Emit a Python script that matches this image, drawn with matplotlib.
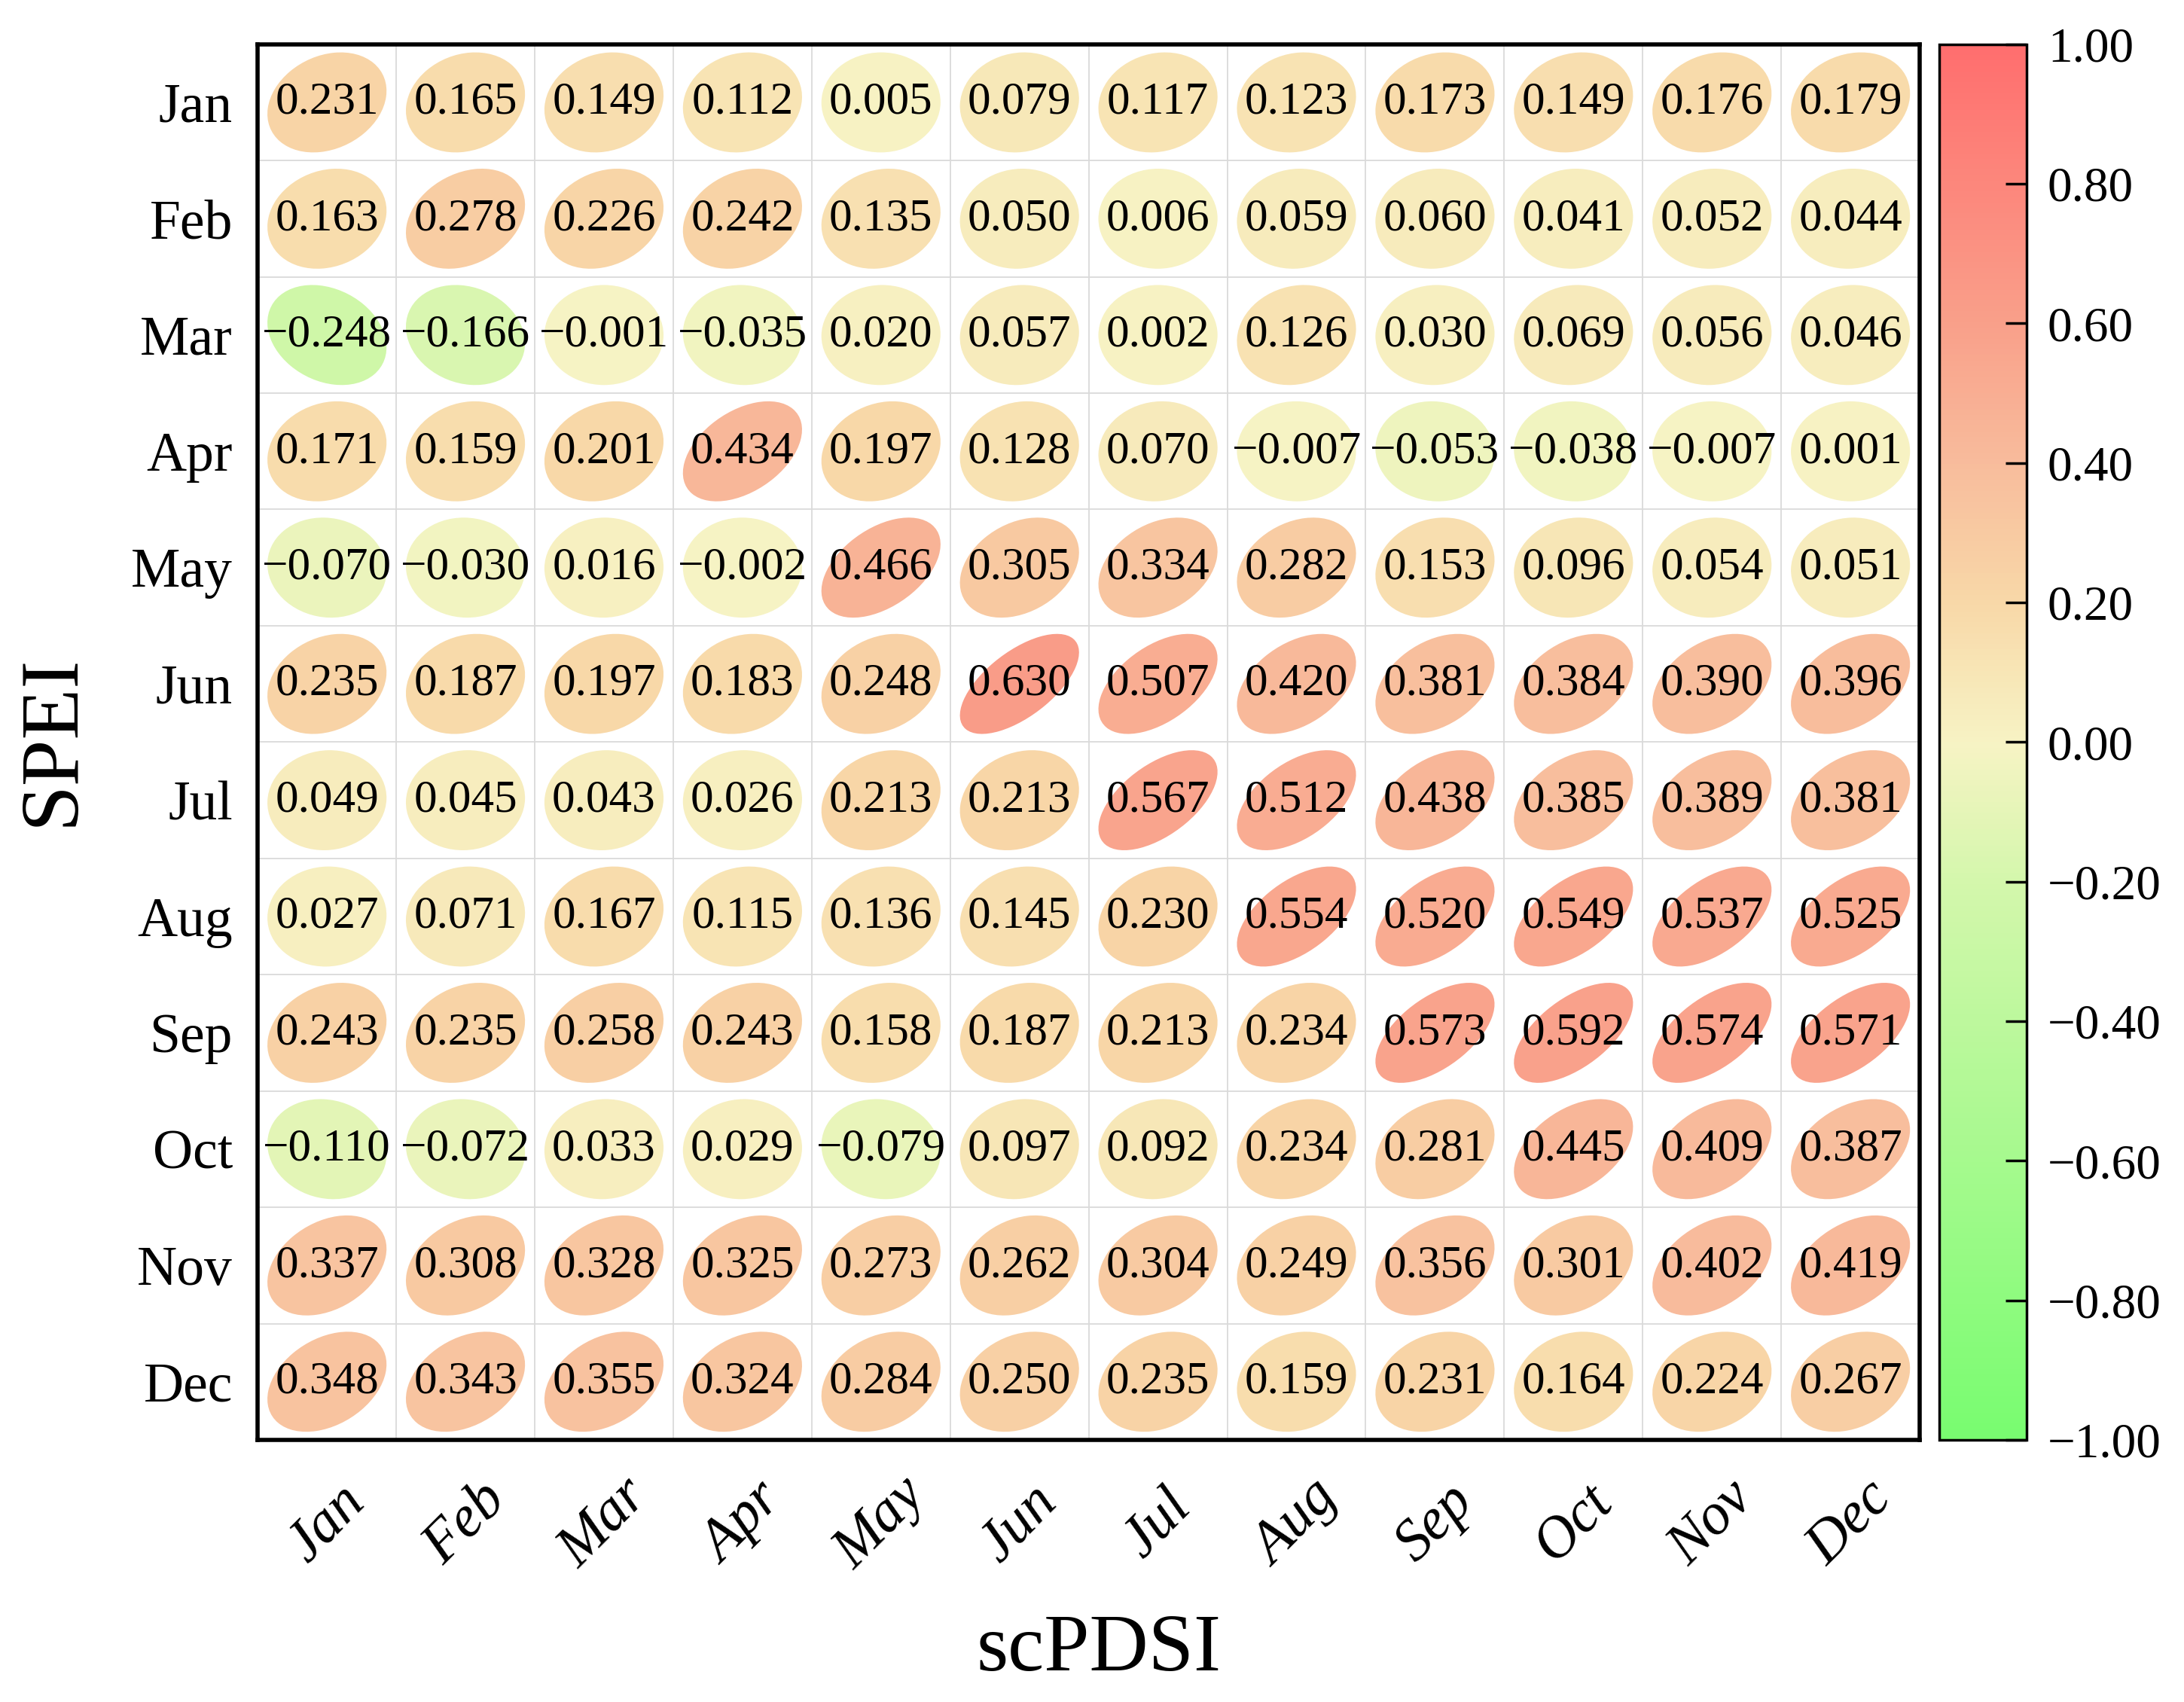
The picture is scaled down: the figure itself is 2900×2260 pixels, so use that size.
import numpy as np
import matplotlib
matplotlib.use("Agg")
import matplotlib.pyplot as plt
from matplotlib.patches import Ellipse
from matplotlib.colors import LinearSegmentedColormap, Normalize
from matplotlib.cm import ScalarMappable

plt.rcParams['font.family'] = ['Liberation Serif', 'DejaVu Serif']

months = ['Jan', 'Feb', 'Mar', 'Apr', 'May', 'Jun',
          'Jul', 'Aug', 'Sep', 'Oct', 'Nov', 'Dec']

# rows = SPEI month, columns = scPDSI month
r_jan = [0.231, 0.165, 0.149, 0.112, 0.005, 0.079, 0.117, 0.123, 0.173, 0.149, 0.176, 0.179]
r_feb = [0.163, 0.278, 0.226, 0.242, 0.135, 0.050, 0.006, 0.059, 0.060, 0.041, 0.052, 0.044]
r_mar = [-0.248, -0.166, -0.001, -0.035, 0.020, 0.057, 0.002, 0.126, 0.030, 0.069, 0.056, 0.046]
r_apr = [0.171, 0.159, 0.201, 0.434, 0.197, 0.128, 0.070, -0.007, -0.053, -0.038, -0.007, 0.001]
r_may = [-0.070, -0.030, 0.016, -0.002, 0.466, 0.305, 0.334, 0.282, 0.153, 0.096, 0.054, 0.051]
r_jun = [0.235, 0.187, 0.197, 0.183, 0.248, 0.630, 0.507, 0.420, 0.381, 0.384, 0.390, 0.396]
r_jul = [0.049, 0.045, 0.043, 0.026, 0.213, 0.213, 0.567, 0.512, 0.438, 0.385, 0.389, 0.381]
r_aug = [0.027, 0.071, 0.167, 0.115, 0.136, 0.145, 0.230, 0.554, 0.520, 0.549, 0.537, 0.525]
r_sep = [0.243, 0.235, 0.258, 0.243, 0.158, 0.187, 0.213, 0.234, 0.573, 0.592, 0.574, 0.571]
r_oct = [-0.110, -0.072, 0.033, 0.029, -0.079, 0.097, 0.092, 0.234, 0.281, 0.445, 0.409, 0.387]
r_nov = [0.337, 0.308, 0.328, 0.325, 0.273, 0.262, 0.304, 0.249, 0.356, 0.301, 0.402, 0.419]
r_dec = [0.348, 0.343, 0.355, 0.324, 0.284, 0.250, 0.235, 0.159, 0.231, 0.164, 0.224, 0.267]

corr = np.array([r_jan, r_feb, r_mar, r_apr, r_may, r_jun,
                 r_jul, r_aug, r_sep, r_oct, r_nov, r_dec])

cmap = LinearSegmentedColormap.from_list('gyr', [
    (0.0, '#78FC70'),
    (0.4, '#D4F7AC'),
    (0.5, '#F7F3C4'),
    (0.6, '#F8D8A8'),
    (0.7, '#F8BC9C'),
    (0.8, '#F9A08A'),
    (1.0, '#FF6E6E'),
])
norm = Normalize(-1, 1)

fig = plt.figure(figsize=(29, 22.6), dpi=100)
ax = fig.add_axes([0.118, 0.154, 0.761, 0.820])

n = len(months)
c = 0.43  # half of ellipse bounding box, in cell units
for i in range(n):
    for j in range(n):
        r = corr[i, j]
        y = n - 1 - i
        e = Ellipse((j, y), width=2 * c * np.sqrt(1 + r), height=2 * c * np.sqrt(1 - r),
                    angle=45, facecolor=cmap(norm(r)), edgecolor='none', zorder=2)
        ax.add_patch(e)
        txt = f'{r:.3f}'.replace('-', '\u2212')
        ax.text(j, y, txt, ha='center', va='center', fontsize=44, zorder=3)

# light cell grid
for k in range(n + 1):
    ax.axvline(k - 0.5, color='#DADADA', lw=1.3, zorder=1)
    ax.axhline(k - 0.5, color='#DADADA', lw=1.3, zorder=1)

ax.set_xlim(-0.5, n - 0.5)
ax.set_ylim(-0.5, n - 0.5)
ax.set_xticks(range(n))
ax.set_xticklabels(months, rotation=45, ha='center', va='center',
                   fontsize=56, style='italic')
ax.set_yticks(range(n))
ax.set_yticklabels(months[::-1], fontsize=53)
ax.tick_params(axis='x', length=0, pad=80)
ax.tick_params(axis='y', length=0, pad=24)
for sp in ax.spines.values():
    sp.set_linewidth(4)

fig.text(0.024, 0.565, 'SPEI', rotation=90, ha='center', va='center', fontsize=80)
fig.text(0.503, 0.030, 'scPDSI', ha='center', va='center', fontsize=78)

# colorbar
cax = fig.add_axes([0.888, 0.154, 0.040, 0.820])
sm = ScalarMappable(norm=norm, cmap=cmap)
cb = fig.colorbar(sm, cax=cax)
ticks = np.round(np.arange(-1, 1.01, 0.2), 2)
cb.set_ticks(ticks)
cb.set_ticklabels([f'{t + 0.0:.2f}'.replace('-0.00', '0.00').replace('-', '\u2212') for t in ticks])
cb.outline.set_linewidth(2.5)
cax.tick_params(axis='y', direction='in', length=20, width=2.5, pad=20, labelsize=47)

fig.savefig('out.png', dpi=100, facecolor='white')
